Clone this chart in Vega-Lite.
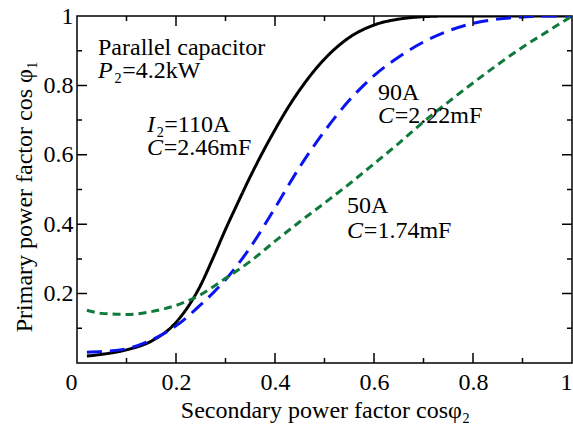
{
  "$schema": "https://vega.github.io/schema/vega-lite/v6.json",
  "width": 495,
  "height": 347,
  "autosize": {"type": "none"},
  "padding": {"left": 77, "top": 16, "right": 1, "bottom": 61},
  "config": {
    "view": {"stroke": "black", "strokeWidth": 1.5},
    "font": "Liberation Serif",
    "axis": {
      "domain": false,
      "grid": false,
      "ticks": false,
      "labelColor": "black",
      "labelFont": "Liberation Serif",
      "labelFontSize": 24,
      "titleFont": "Liberation Serif",
      "titleFontSize": 24,
      "titleFontWeight": "normal",
      "titleColor": "black"
    }
  },
  "datasets": {
    "major": [{"v": 0.2}, {"v": 0.4}, {"v": 0.6}, {"v": 0.8}],
    "minor": [{"v": 0.1}, {"v": 0.3}, {"v": 0.5}, {"v": 0.7}, {"v": 0.9}],
    "curves": [
      {"s": "110A", "x": 0.02, "y": 0.02},
      {"s": "110A", "x": 0.05, "y": 0.025},
      {"s": "110A", "x": 0.1, "y": 0.038},
      {"s": "110A", "x": 0.15, "y": 0.063},
      {"s": "110A", "x": 0.2, "y": 0.117},
      {"s": "110A", "x": 0.25, "y": 0.225},
      {"s": "110A", "x": 0.275, "y": 0.303},
      {"s": "110A", "x": 0.3, "y": 0.385},
      {"s": "110A", "x": 0.325, "y": 0.462},
      {"s": "110A", "x": 0.35, "y": 0.537},
      {"s": "110A", "x": 0.375, "y": 0.607},
      {"s": "110A", "x": 0.4, "y": 0.672},
      {"s": "110A", "x": 0.425, "y": 0.733},
      {"s": "110A", "x": 0.45, "y": 0.787},
      {"s": "110A", "x": 0.5, "y": 0.876},
      {"s": "110A", "x": 0.55, "y": 0.938},
      {"s": "110A", "x": 0.6, "y": 0.974},
      {"s": "110A", "x": 0.65, "y": 0.991},
      {"s": "110A", "x": 0.7, "y": 0.998},
      {"s": "110A", "x": 0.75, "y": 1.0},
      {"s": "110A", "x": 0.85, "y": 1.0},
      {"s": "110A", "x": 1.0, "y": 1.0},
      {"s": "90A", "x": 0.02, "y": 0.031},
      {"s": "90A", "x": 0.05, "y": 0.033},
      {"s": "90A", "x": 0.1, "y": 0.041},
      {"s": "90A", "x": 0.15, "y": 0.066},
      {"s": "90A", "x": 0.2, "y": 0.107},
      {"s": "90A", "x": 0.25, "y": 0.168},
      {"s": "90A", "x": 0.3, "y": 0.24},
      {"s": "90A", "x": 0.35, "y": 0.333},
      {"s": "90A", "x": 0.4, "y": 0.447},
      {"s": "90A", "x": 0.45, "y": 0.565},
      {"s": "90A", "x": 0.5, "y": 0.668},
      {"s": "90A", "x": 0.55, "y": 0.757},
      {"s": "90A", "x": 0.6, "y": 0.828},
      {"s": "90A", "x": 0.65, "y": 0.882},
      {"s": "90A", "x": 0.7, "y": 0.925},
      {"s": "90A", "x": 0.75, "y": 0.957},
      {"s": "90A", "x": 0.8, "y": 0.979},
      {"s": "90A", "x": 0.85, "y": 0.991},
      {"s": "90A", "x": 0.9, "y": 0.997},
      {"s": "90A", "x": 0.95, "y": 1.0},
      {"s": "90A", "x": 1.0, "y": 1.0},
      {"s": "50A", "x": 0.02, "y": 0.152},
      {"s": "50A", "x": 0.05, "y": 0.143},
      {"s": "50A", "x": 0.1, "y": 0.14},
      {"s": "50A", "x": 0.15, "y": 0.148},
      {"s": "50A", "x": 0.2, "y": 0.166},
      {"s": "50A", "x": 0.25, "y": 0.197},
      {"s": "50A", "x": 0.3, "y": 0.244},
      {"s": "50A", "x": 0.35, "y": 0.293},
      {"s": "50A", "x": 0.4, "y": 0.351},
      {"s": "50A", "x": 0.45, "y": 0.407},
      {"s": "50A", "x": 0.5, "y": 0.461},
      {"s": "50A", "x": 0.55, "y": 0.516},
      {"s": "50A", "x": 0.6, "y": 0.574},
      {"s": "50A", "x": 0.65, "y": 0.633},
      {"s": "50A", "x": 0.7, "y": 0.695},
      {"s": "50A", "x": 0.75, "y": 0.752},
      {"s": "50A", "x": 0.8, "y": 0.807},
      {"s": "50A", "x": 0.85, "y": 0.86},
      {"s": "50A", "x": 0.9, "y": 0.91},
      {"s": "50A", "x": 0.95, "y": 0.955},
      {"s": "50A", "x": 1.0, "y": 1.0}
    ],
    "plain": [
      {"x": 0.0424, "y": 0.8876, "t": "Parallel capacitor"},
      {"x": 0.0744, "y": 0.821, "t": "₂=4.2kW"},
      {"x": 0.1594, "y": 0.6657, "t": "₂=110A"},
      {"x": 0.1754, "y": 0.5994, "t": "=2.46mF"},
      {"x": 0.608, "y": 0.758, "t": "90A"},
      {"x": 0.642, "y": 0.6916, "t": "=2.22mF"},
      {"x": 0.5455, "y": 0.4323, "t": "50A"},
      {"x": 0.5795, "y": 0.3602, "t": "=1.74mF"}
    ],
    "italic": [
      {"x": 0.0424, "y": 0.821, "t": "P"},
      {"x": 0.1414, "y": 0.6657, "t": "I"},
      {"x": 0.1414, "y": 0.5994, "t": "C"},
      {"x": 0.608, "y": 0.6916, "t": "C"},
      {"x": 0.5455, "y": 0.3602, "t": "C"}
    ]
  },
  "layer": [
    {
      "data": {"name": "curves"},
      "mark": {"type": "line", "strokeWidth": 3, "interpolate": "monotone", "clip": true},
      "encoding": {
        "x": {
          "field": "x", "type": "quantitative",
          "scale": {"domain": [0, 1], "nice": false, "zero": false},
          "axis": {
            "orient": "bottom",
            "title": "Secondary power factor cosφ₂",
            "titleX": 248,
            "titleY": 54,
            "titleBaseline": "alphabetic",
            "values": [0, 0.2, 0.4, 0.6, 0.8, 1],
            "labelExpr": "format(datum.value, '~g')",
            "labelAlign": {"condition": {"test": "datum.value == 0 || datum.value == 1", "value": "right"}, "value": "center"},
            "labelPadding": 7,
            "labelFlush": false,
            "labelOverlap": false
          }
        },
        "y": {
          "field": "y", "type": "quantitative",
          "scale": {"domain": [0, 1], "nice": false, "zero": false},
          "axis": {
            "orient": "left",
            "title": "Primary power factor cos φ₁",
            "titleX": -46,
            "titleY": 180,
            "titleBaseline": "alphabetic",
            "values": [0.2, 0.4, 0.6, 0.8, 1],
            "labelExpr": "format(datum.value, '~g')",
            "labelPadding": 4,
            "labelFlush": false,
            "labelOverlap": false
          }
        },
        "color": {
          "field": "s", "type": "nominal", "legend": null,
          "scale": {"domain": ["110A", "90A", "50A"], "range": ["#000000", "#0a14f0", "#0f7a3c"]}
        },
        "strokeDash": {
          "field": "s", "type": "nominal", "legend": null,
          "scale": {"domain": ["110A", "90A", "50A"], "range": [[1, 0], [15, 8], [8, 5]]}
        }
      }
    },
    {
      "data": {"name": "major"},
      "mark": {"type": "rect", "fill": "black", "stroke": "black", "strokeWidth": 1.5},
      "encoding": {
        "x": {"field": "v", "type": "quantitative", "axis": null},
        "x2": {"field": "v"},
        "y": {"datum": 0, "type": "quantitative", "axis": null},
        "y2": {"datum": 0.029}
      }
    },
    {
      "data": {"name": "major"},
      "mark": {"type": "rect", "fill": "black", "stroke": "black", "strokeWidth": 1.5},
      "encoding": {
        "x": {"field": "v", "type": "quantitative", "axis": null},
        "x2": {"field": "v"},
        "y": {"datum": 1, "type": "quantitative", "axis": null},
        "y2": {"datum": 0.971}
      }
    },
    {
      "data": {"name": "minor"},
      "mark": {"type": "rect", "fill": "black", "stroke": "black", "strokeWidth": 1.5},
      "encoding": {
        "x": {"field": "v", "type": "quantitative", "axis": null},
        "x2": {"field": "v"},
        "y": {"datum": 0, "type": "quantitative", "axis": null},
        "y2": {"datum": 0.0145}
      }
    },
    {
      "data": {"name": "minor"},
      "mark": {"type": "rect", "fill": "black", "stroke": "black", "strokeWidth": 1.5},
      "encoding": {
        "x": {"field": "v", "type": "quantitative", "axis": null},
        "x2": {"field": "v"},
        "y": {"datum": 1, "type": "quantitative", "axis": null},
        "y2": {"datum": 0.9855}
      }
    },
    {
      "data": {"name": "major"},
      "mark": {"type": "rect", "fill": "black", "stroke": "black", "strokeWidth": 1.5},
      "encoding": {
        "y": {"field": "v", "type": "quantitative", "axis": null},
        "y2": {"field": "v"},
        "x": {"datum": 0, "type": "quantitative", "axis": null},
        "x2": {"datum": 0.0202}
      }
    },
    {
      "data": {"name": "major"},
      "mark": {"type": "rect", "fill": "black", "stroke": "black", "strokeWidth": 1.5},
      "encoding": {
        "y": {"field": "v", "type": "quantitative", "axis": null},
        "y2": {"field": "v"},
        "x": {"datum": 1, "type": "quantitative", "axis": null},
        "x2": {"datum": 0.9798}
      }
    },
    {
      "data": {"name": "minor"},
      "mark": {"type": "rect", "fill": "black", "stroke": "black", "strokeWidth": 1.5},
      "encoding": {
        "y": {"field": "v", "type": "quantitative", "axis": null},
        "y2": {"field": "v"},
        "x": {"datum": 0, "type": "quantitative", "axis": null},
        "x2": {"datum": 0.0101}
      }
    },
    {
      "data": {"name": "minor"},
      "mark": {"type": "rect", "fill": "black", "stroke": "black", "strokeWidth": 1.5},
      "encoding": {
        "y": {"field": "v", "type": "quantitative", "axis": null},
        "y2": {"field": "v"},
        "x": {"datum": 1, "type": "quantitative", "axis": null},
        "x2": {"datum": 0.9899}
      }
    },
    {
      "data": {"name": "plain"},
      "mark": {"type": "text", "align": "left", "baseline": "alphabetic", "fontSize": 24, "font": "Liberation Serif", "color": "black"},
      "encoding": {
        "x": {"field": "x", "type": "quantitative", "axis": null},
        "y": {"field": "y", "type": "quantitative", "axis": null},
        "text": {"field": "t"}
      }
    },
    {
      "data": {"name": "italic"},
      "mark": {"type": "text", "align": "left", "baseline": "alphabetic", "fontSize": 24, "font": "Liberation Serif", "fontStyle": "italic", "color": "black"},
      "encoding": {
        "x": {"field": "x", "type": "quantitative", "axis": null},
        "y": {"field": "y", "type": "quantitative", "axis": null},
        "text": {"field": "t"}
      }
    }
  ],
  "resolve": {"axis": {"x": "independent", "y": "independent"}}
}
